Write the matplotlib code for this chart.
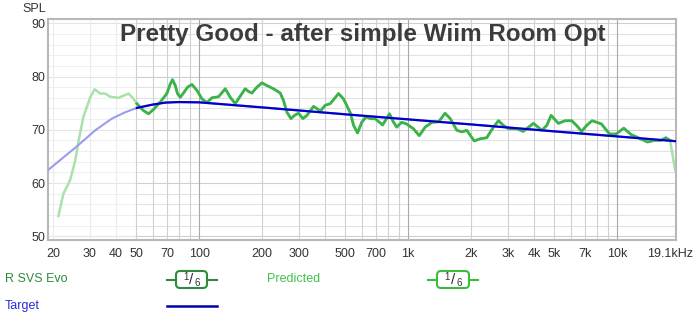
import matplotlib
matplotlib.use("Agg")
import matplotlib.pyplot as plt
import numpy as np
from matplotlib.patches import FancyBboxPatch
from matplotlib.lines import Line2D
from matplotlib.transforms import IdentityTransform, ScaledTranslation

plt.rcParams['font.family'] = ['Liberation Sans', 'DejaVu Sans']

# ---------------- data ----------------
pred_freq = [21.2, 22.4, 24.1, 25.5, 26.5, 27.9, 30.1, 31.6, 33.6, 35.5, 37.5, 41.1, 45.9, 48.5,
             50.3, 54.1, 57.2, 60.4, 65.1, 70.0, 72.7, 74.5, 76.8, 78.7, 81.1, 84.1, 87.9, 92.3,
             97.5, 103.0, 108.9, 115.0, 123.7, 133.2, 140.7, 148.7, 157, 166, 172, 178.7, 188.8,
             199.5, 210.8, 226.7, 244.1, 253, 262.8, 274.7, 288, 298.7, 313.4, 327.6, 352.3, 368,
             379.4, 400.8, 423.5, 464, 490, 528, 548, 572, 599, 628, 657, 694, 754, 813,
             851, 881, 929, 981, 1058, 1129, 1205, 1299, 1398, 1500, 1588, 1708, 1806, 1906, 2068,
             2207, 2374, 2557, 2702, 2856, 3016, 3307, 3548, 3973, 4354, 4600, 4827, 5227, 5628,
             6053, 6391, 6750, 7132, 7580, 8395, 9188, 9880, 10740, 11640, 12620, 13960, 15020,
             16160, 17070, 17900, 18580, 18930]
pred_db = [53.8, 58.0, 60.5, 64.2, 68.0, 72.4, 76.1, 77.6, 76.8, 76.8, 76.2, 76.0, 76.8, 75.8,
           74.9, 73.6, 73.0, 73.8, 75.2, 76.8, 78.6, 79.4, 78.3, 76.8, 76.1, 76.9, 78.0, 78.5,
           77.4, 75.8, 75.1, 76.0, 76.2, 77.7, 76.1, 74.9, 76.3, 77.7, 77.2, 76.9, 78.0,
           78.8, 78.3, 77.7, 76.9, 75.5, 73.3, 72.1, 72.8, 73.1, 72.1, 72.7, 74.4, 73.9,
           73.5, 74.6, 74.9, 76.8, 75.8, 73.2, 70.8, 69.4, 71.4, 72.4, 72.1,
           72.1, 70.9, 73.0, 71.4, 70.5, 71.4, 71.1, 70.2, 68.9, 70.5, 71.4, 71.5, 73.1, 72.1,
           69.9, 69.6, 69.9, 67.9, 68.3, 68.5, 70.5, 71.7, 70.8, 70.2, 70.2, 69.7, 71.2, 69.9,
           70.8, 72.7, 71.2, 71.7, 71.7, 70.8, 69.7, 70.8, 71.7, 71.1, 69.2, 69.2, 70.3, 69.1,
           68.5, 67.7, 68.0, 68.0, 68.5, 68.0, 64.2, 62.4]

target_freq = [19.0, 26.0, 31.8, 38.2, 44.3, 50.3, 59.4, 68.8, 79.6, 100, 200, 500, 1000,
               2000, 5000, 10000, 19100]
target_db = [62.5, 66.9, 69.9, 72.1, 73.3, 74.1, 74.7, 75.1, 75.2, 75.15, 74.2, 72.9, 71.95,
             71.0, 69.7, 68.75, 67.85]

eq_range = (50.0, 18300.0)

xtick_vals = [20, 30, 40, 50, 70, 100, 200, 300, 500, 700, 1000, 2000, 3000, 4000, 5000,
              7000, 10000, 19100]
xtick_labels = ['20', '30', '40', '50', '70', '100', '200', '300', '500', '700', '1k', '2k',
                '3k', '4k', '5k', '7k', '10k', '19.1kHz']
ytick_vals = [50, 60, 70, 80, 90]

title = "Pretty Good - after simple Wiim Room Opt"

# ---------------- figure ----------------
W, H = 700, 320
fig = plt.figure(figsize=(W / 100, H / 100), dpi=100)
L, R, T, B = 48, 676, 19, 240
ax = fig.add_axes([L / W, 1 - B / H, (R - L) / W, (B - T) / H])
ax.set_xscale('log')
xmin, xmax = 18.9, 19100
ymin, ymax = 49.3, 90.8
ax.set_xlim(xmin, xmax)
ax.set_ylim(ymin, ymax)

# grid
for yv in np.arange(50, 91, 2):
    major = (yv % 10 == 0)
    ax.plot([xmin, 50], [yv, yv], color='#e4e4e4' if major else '#f0f0f0', lw=0.8, zorder=0)
    ax.plot([50, xmax], [yv, yv], color='#cfcfcf' if major else '#e2e2e2', lw=0.8, zorder=0)
vgrid = []
for dec in [10, 100, 1000, 10000]:
    for m in range(1, 10):
        f = dec * m
        if xmin < f < xmax:
            vgrid.append(f)
for f in vgrid:
    if f < 50:
        c = '#ececec'
    elif f in (100, 1000, 10000):
        c = '#a8a8a8'
    else:
        c = '#d0d0d0'
    ax.axvline(f, color=c, lw=0.8, zorder=0)

# curves
pf = np.array(pred_freq)
pdb = np.array(pred_db)
ax.plot(pf, pdb, color='#a9e2a9', lw=1.8, zorder=2, solid_joinstyle='round')
m = (pf >= eq_range[0]) & (pf <= eq_range[1])
ax.plot(pf[m], pdb[m], color='#3bb34a', lw=2.0, zorder=3, solid_joinstyle='round')

tf = np.array(target_freq)
tdb = np.array(target_db)
ax.plot(tf, tdb, color='#9c9cec', lw=1.5, zorder=4)
mt = tf >= eq_range[0]
ax.plot(tf[mt], tdb[mt], color='#0000c8', lw=1.6, zorder=5)

# spines
for s in ax.spines.values():
    s.set_color('#b8b8b8')
    s.set_linewidth(1.5)

# ticks
ax.set_xticks(xtick_vals)
ax.set_xticklabels(xtick_labels)
ax.xaxis.set_minor_locator(matplotlib.ticker.NullLocator())
ax.set_yticks(ytick_vals)
ax.set_yticklabels([str(v) for v in ytick_vals])
ax.tick_params(axis='x', length=0, pad=6, labelsize=9, colors='#333333')
ax.tick_params(axis='y', length=0, pad=2, labelsize=9, colors='#333333')
for lbl in ax.get_xticklabels():
    if lbl.get_text() == '19.1kHz':
        lbl.set_transform(lbl.get_transform() + ScaledTranslation(-6 / 100, 0, fig.dpi_scale_trans))

fig.text(46 / W, 1 - 9 / H, 'SPL', ha='right', va='center', fontsize=9, color='#333333')

# title
fig.text(362.5 / W, 1 - 41 / H, title, ha='center', va='baseline', fontsize=17.5,
         fontweight='bold', color='#3c3c3c')

# ---------------- legend row ----------------
idt = IdentityTransform()


def P(x, y):
    return x, H - y


def filter_icon(x0, x1, bx0, bx1, yc, color):
    fig.add_artist(Line2D([P(x0, yc)[0], P(bx0, yc)[0]], [P(x0, yc)[1]] * 2, color=color,
                          lw=1.5, transform=idt))
    fig.add_artist(Line2D([P(bx1, yc)[0], P(x1, yc)[0]], [P(x1, yc)[1]] * 2, color=color,
                          lw=1.5, transform=idt))
    hb = 8.5
    box = FancyBboxPatch(P(bx0, yc + hb), bx1 - bx0, 2 * hb,
                         boxstyle='round,pad=0,rounding_size=4', fc='white', ec=color, lw=1.5,
                         transform=idt)
    fig.add_artist(box)
    cx = (bx0 + bx1) / 2
    fig.text(*P(cx - 6, yc - 2), '1', transform=idt, ha='center', va='center', fontsize=7,
             color='#333333')
    fig.text(*P(cx, yc), '/', transform=idt, ha='center', va='center', fontsize=11,
             color='#333333', fontweight='light')
    fig.text(*P(cx + 6, yc + 3), '6', transform=idt, ha='center', va='center', fontsize=7,
             color='#333333')


fig.text(*P(5, 279.5), 'R SVS Evo', transform=idt, ha='left', va='center', fontsize=9,
         color='#2e8b3c')
filter_icon(167, 217, 176, 207, 279.5, '#2e8b3c')
fig.text(*P(267, 279.5), 'Predicted', transform=idt, ha='left', va='center', fontsize=9,
         color='#44c04f')
filter_icon(428, 478, 437, 469, 279.5, '#3cbc3c')
fig.text(*P(5, 305.5), 'Target', transform=idt, ha='left', va='center', fontsize=9,
         color='#2b2be0')
fig.add_artist(Line2D([167, 217], [H - 305.5, H - 305.5], color='#0000aa', lw=1.8,
                      transform=idt))

fig.savefig('out.png', dpi=100)
